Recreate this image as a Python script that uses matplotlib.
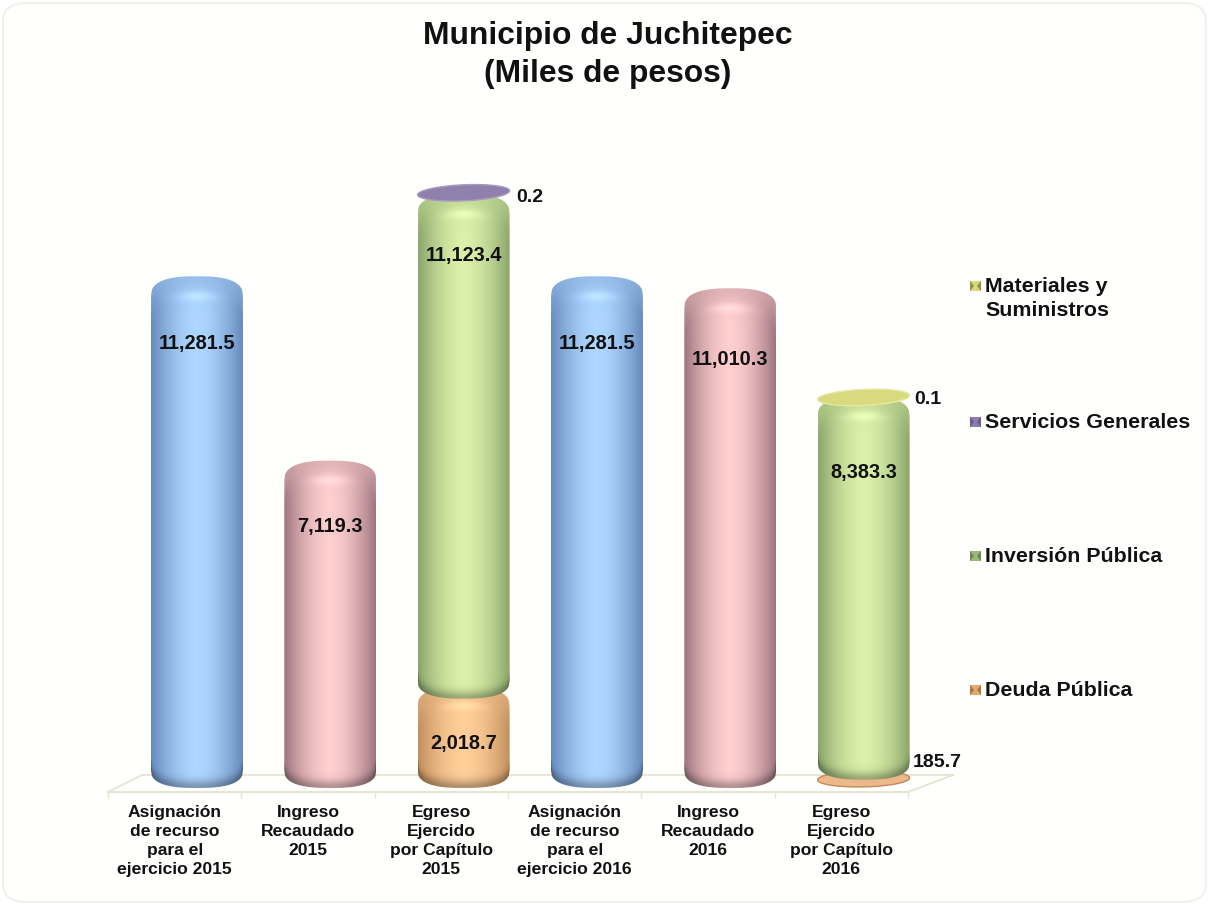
import numpy as np
import matplotlib
matplotlib.use('Agg')
import matplotlib.pyplot as plt
from matplotlib.lines import Line2D
from matplotlib.patches import FancyBboxPatch, PathPatch, Polygon, Rectangle
from matplotlib.path import Path

plt.rcParams['font.family'] = ['Liberation Sans', 'DejaVu Sans']
plt.rcParams['font.weight'] = 'bold'

# Data
categories = ['Asignación\nde recurso\npara el\nejercicio 2015', 'Ingreso\nRecaudado\n2015',
              'Egreso\nEjercido\npor Capítulo\n2015', 'Asignación\nde recurso\npara el\nejercicio 2016',
              'Ingreso\nRecaudado\n2016', 'Egreso\nEjercido\npor Capítulo\n2016']
asignacion = [11281.5, 0, 0, 11281.5, 0, 0]
ingreso = [0, 7119.3, 0, 0, 11010.3, 0]
deuda = [0, 0, 2018.7, 0, 0, 185.7]
inversion = [0, 0, 11123.4, 0, 0, 8383.3]
servicios = [0, 0, 0.2, 0, 0, 0]
materiales = [0, 0, 0, 0, 0, 0.1]
legend_names = ['Materiales y\nSuministros', 'Servicios Generales', 'Inversión Pública', 'Deuda Pública']

# Figure size and pixel helpers
W, H = 1209, 905
PX_PER_UNIT = 0.0443
YMIN, YMAX = -600, 14000
BAR_HALF = 0.345
CURVE_TOP = (7.0, 20.0)  # px above the value at the middle, px of drop to the shoulder
CURVE_BOT = (5.0, 18.0)


def fx(x):
    return x / W


def fy(y):
    return 1 - y / H


def shoulder_curve(u):
    # 0 in the middle of the bar, 1 at its side
    return 1 - np.clip(1 - np.abs(u) ** 2.6, 0, 1) ** (1 / 2.6)


fig = plt.figure(figsize=(W / 100, H / 100), dpi=100, facecolor='white')

# Card behind the chart
card = FancyBboxPatch((fx(3), fy(902)), 1203 / W, 899 / H, boxstyle='round,pad=0,rounding_size=0.02',
                      transform=fig.transFigure, fc='#FFFFFE', ec='#F0F0EC', lw=1.5, zorder=0)
fig.add_artist(card)

# Floor of the 3D plot
floor_color = '#E6E4D2'
for xs, ys in [((108, 908), (792, 792)), ((108, 142), (792, 775)),
               ((142, 953), (775, 775)), ((908, 953), (792, 775))]:
    fig.add_artist(Line2D([fx(v) for v in xs], [fy(v) for v in ys], color=floor_color, lw=1.3, zorder=1))

# Main axes, value 0 sits at pixel row 783
ax = fig.add_axes([fx(130.3), fy(783 - YMIN * PX_PER_UNIT), 800 / W, (YMAX - YMIN) * PX_PER_UNIT / H], zorder=3)
ax.patch.set_visible(False)
ax.axis('off')


def draw_cylinder(x, bottom, height, center, edge):
    # cylinder with shaded sides, clipped to its rounded outline
    up_t, drop_t = CURVE_TOP
    down_b, rise_b = CURVE_BOT
    rows = int(height * PX_PER_UNIT + up_t + down_b + 2)
    u = np.linspace(-1, 1, 93)
    yy = np.arange(rows) + 0.5  # pixels from the top of the image
    uu, yy = np.meshgrid(u, yy)
    t = yy - drop_t * shoulder_curve(uu)
    b = rows - rise_b * shoulder_curve(uu) - yy

    side = 1 - np.abs(uu) ** 1.7
    center = np.array(center)
    edge = np.array(edge)
    img = edge + (center - edge) * side[..., None]

    # darker cap fading into the body, soft highlight on the shoulder
    cap = np.exp(-(np.clip(t, 0, None) / 18.0) ** 2)[..., None]
    img = img * (1 - 0.65 * cap) + (0.55 * center + 0.45 * edge) * 0.65 * cap
    glow = np.exp(-((t - 20) / 5.0) ** 2) * np.exp(-(uu / 0.45) ** 2)
    img = img + 0.09 * glow[..., None]
    # darker rim along the bottom
    rim = np.exp(-(np.clip(b, 0, None) / 8.0) ** 2)[..., None]
    img = img * (1 - 0.30 * rim)
    img = np.clip(img, 0, 1)

    y_low = bottom - down_b / PX_PER_UNIT
    y_high = bottom + height + up_t / PX_PER_UNIT
    im = ax.imshow(img, extent=(x - BAR_HALF, x + BAR_HALF, y_low, y_high), aspect='auto',
                   interpolation='bilinear', zorder=2)

    a = np.linspace(-1, 1, 121)
    top_y = y_high - drop_t / PX_PER_UNIT * shoulder_curve(a)
    bot_y = y_low + rise_b / PX_PER_UNIT * shoulder_curve(a)
    verts = np.r_[np.c_[x + BAR_HALF * a, top_y], np.c_[x + BAR_HALF * a[::-1], bot_y[::-1]], [[x - BAR_HALF, top_y[0]]]]
    outline = PathPatch(Path(verts), fc='none', ec='none', transform=ax.transData, zorder=2)
    ax.add_patch(outline)
    im.set_clip_path(outline)


def draw_disc(x, y, face, rim, zorder=4, tilt=2.0):
    a = np.linspace(0, 2 * np.pi, 80)
    ry = 8.0 / PX_PER_UNIT
    verts = np.c_[x + BAR_HALF * np.cos(a), y + ry * np.sin(a) + tilt / PX_PER_UNIT * np.cos(a)]
    ax.add_patch(PathPatch(Path(verts), fc=face, ec=rim, lw=1.0, transform=ax.transData, zorder=zorder))


# px from the top of each segment down to its label
label_drop = {11281.5: 60, 7119.3: 59, 11010.3: 64, 11123.4: 55, 8383.3: 69, 2018.7: 50}


def inside_label(x, bottom, value):
    ax.text(x, bottom + value - label_drop[value] / PX_PER_UNIT, f'{value:,.1f}', ha='center', va='center',
            fontsize=14.4, color='#111111', zorder=6)


blue = ((0.68, 0.84, 1.0), (0.40, 0.54, 0.74))
pink = ((1.0, 0.81, 0.81), (0.62, 0.46, 0.50))
green = ((0.86, 0.94, 0.66), (0.54, 0.65, 0.42))
orange = ((1.0, 0.81, 0.60), (0.76, 0.56, 0.36))

x_pos = np.arange(len(categories))
for i in x_pos:
    if asignacion[i] > 0:
        draw_cylinder(i, 0, asignacion[i], *blue)
        inside_label(i, 0, asignacion[i])
    if ingreso[i] > 0:
        draw_cylinder(i, 0, ingreso[i], *pink)
        inside_label(i, 0, ingreso[i])
    if inversion[i] > 0:
        if deuda[i] > 500:
            draw_cylinder(i, 0, deuda[i], *orange)
            inside_label(i, 0, deuda[i])
        else:
            draw_disc(i, deuda[i] / 2, '#EDB98A', '#C08A5A', zorder=2, tilt=1.0)
        draw_cylinder(i, deuda[i], inversion[i], *green)
        inside_label(i, deuda[i], inversion[i])
    stack_top = deuda[i] + inversion[i]
    if servicios[i] > 0:
        draw_disc(i, stack_top + 8 / PX_PER_UNIT, '#8F80AC', '#A99CC2')
    if materiales[i] > 0:
        draw_disc(i, stack_top + 6 / PX_PER_UNIT, '#D9D97E', '#E8E8A0')

ax.set_xlim(-0.5, 5.5)
ax.set_ylim(YMIN, YMAX)

# Small values written beside the bar, offsets in px from the bar's right side and the stack top
side_labels = [(2, servicios[2], deuda[2] + inversion[2], 7, 3),
               (5, materiales[5], deuda[5] + inversion[5], 5, 4),
               (5, deuda[5], deuda[5], 3, 12)]
for i, val, y_ref, dx, dy in side_labels:
    ax.annotate(f'{val:,.1f}', (i + BAR_HALF, y_ref), xytext=(dx * 0.72, dy * 0.72),
                textcoords='offset points', ha='left', va='center', fontsize=14,
                color='#111111', annotation_clip=False, zorder=6)

# Category axis along the front of the floor
ax2 = fig.add_axes([fx(108), fy(792), 800 / W, 1 / H], zorder=2)
ax2.patch.set_visible(False)
ax2.set_xlim(-0.5, 5.5)
ax2.set_ylim(0, 1)
for s in ['top', 'left', 'right']:
    ax2.spines[s].set_visible(False)
ax2.spines['bottom'].set_color(floor_color)
ax2.set_yticks([])
ax2.set_xticks(np.arange(-0.5, 6, 1))
ax2.set_xticklabels([])
ax2.set_xticks(x_pos, minor=True)
ax2.set_xticklabels(categories, minor=True, fontsize=12.6, linespacing=1.36, color='#111111', fontweight='bold')
ax2.tick_params(axis='x', which='major', length=4.5, color=floor_color, width=1.0)
ax2.tick_params(axis='x', which='minor', length=0, pad=9)

# Title
fig.text(fx(608), fy(55), 'Municipio de Juchitepec\n(Miles de pesos)', ha='center', va='center',
         fontsize=22.9, linespacing=1.38, color='#111111', fontweight='bold')

# Legend, drawn by hand because the rows are spaced across the full height
legend_rows = [286, 422, 556, 690]
legend_colors = ['#D8D878', '#8C7CAC', '#9DB77A', '#E4A870']
legend_darks = ['#8E8E50', '#6A5C88', '#6E8850', '#A87840']
for name, row, col, dark in zip(legend_names, legend_rows, legend_colors, legend_darks):
    fig.add_artist(Rectangle((fx(970), fy(row + 5)), 11 / W, 10 / H, transform=fig.transFigure,
                             fc=col, ec='none', zorder=2))
    for x0, x1 in [(970, 974), (981, 977)]:
        fig.add_artist(Polygon([(fx(x0), fy(row + 5)), (fx(x0), fy(row - 5)), (fx(x1), fy(row))],
                               transform=fig.transFigure, fc=dark, ec='none', zorder=2))
    fig.text(fx(985), fy(row - 9), name, ha='left', va='top', fontsize=15.4, linespacing=1.36,
             color='#111111', fontweight='bold')

fig.savefig('out.png', dpi=100)
